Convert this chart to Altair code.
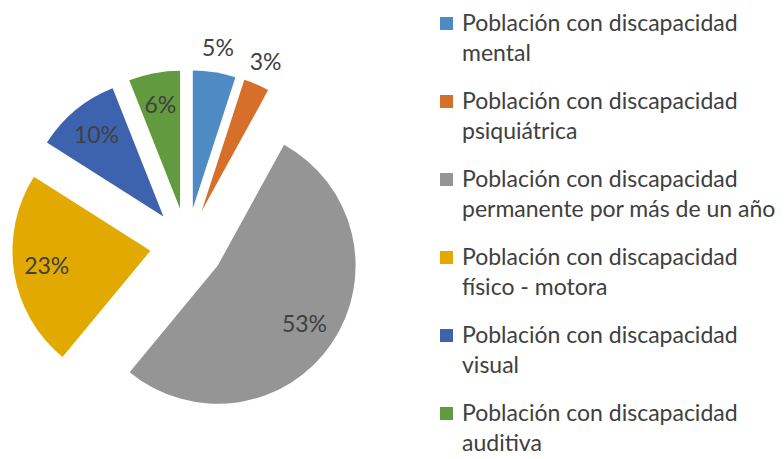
import altair as alt
import pandas as pd

categories = [
    "Población con discapacidad mental",
    "Población con discapacidad psiquiátrica",
    "Población con discapacidad permanente por más de un año",
    "Población con discapacidad físico - motora",
    "Población con discapacidad visual",
    "Población con discapacidad auditiva",
]
values = [5, 3, 53, 23, 10, 6]
labels = ["5%", "3%", "53%", "23%", "10%", "6%"]
colors = ["#4E8AC3", "#D66F2A", "#959595", "#E2AA00", "#3D63AE", "#629A3F"]

df = pd.DataFrame({
    "idx": list(range(len(categories))),
    "category": categories,
    "value": values,
    "label": labels,
    "legend_text": [c.replace("discapacidad ", "discapacidad\n", 1) for c in categories],
})

CX, CY = 179, 237      # pie centre (chart px)
R = 138                # radius
EXPLODE = 37           # slice offset
FONT = "Lato"
TXT = "#404040"

color = alt.Color("category:N", scale=alt.Scale(domain=categories, range=colors), legend=None)

base = (
    alt.Chart(df)
    .transform_window(cum="sum(value)", sort=[alt.SortField("idx")])
    .transform_joinaggregate(total="sum(value)")
    .transform_calculate(
        t0="2*PI*(datum.cum - datum.value)/datum.total",
        t1="2*PI*datum.cum/datum.total",
    )
    .transform_calculate(mid="(datum.t0 + datum.t1)/2")
)

pie = (
    base.transform_calculate(
        px=f"{CX} + {EXPLODE}*sin(datum.mid)",
        py=f"{CY} - {EXPLODE}*cos(datum.mid)",
    )
    .mark_arc(outerRadius=R)
    .encode(
        theta=alt.Theta("t0:Q", scale=None),
        theta2="t1:Q",
        x=alt.X("px:Q", scale=None),
        y=alt.Y("py:Q", scale=None),
        color=color,
    )
)

pie_labels = (
    base.transform_calculate(lr="datum.value < 6 ? 198 : 142")
    .transform_calculate(
        tx=f"{CX} + datum.lr*sin(datum.mid)",
        ty=f"{CY} - datum.lr*cos(datum.mid)",
    )
    .mark_text(font=FONT, fontSize=23, color=TXT, align="center", baseline="middle")
    .encode(
        x=alt.X("tx:Q", scale=None),
        y=alt.Y("ty:Q", scale=None),
        text="label:N",
    )
)

legend_base = alt.Chart(df).transform_calculate(
    sy="15.5 + datum.idx*78",
    ly="23 + datum.idx*78",
)

legend_sym = legend_base.mark_square(size=169, opacity=1).encode(
    x=alt.value(438.5),
    y=alt.Y("sy:Q", scale=None),
    color=color,
)

legend_txt = legend_base.mark_text(
    font=FONT, fontSize=23, color=TXT, align="left", baseline="alphabetic",
    lineBreak="\n", lineHeight=30,
).encode(
    x=alt.value(454),
    y=alt.Y("ly:Q", scale=None),
    text="legend_text:N",
)

chart = (
    alt.layer(pie, pie_labels, legend_sym, legend_txt)
    .properties(width=768, height=451, padding=0, autosize="none", background="white")
    .configure_view(stroke=None)
)

chart.save("out.html", embed_options={"renderer": "svg", "actions": False})
